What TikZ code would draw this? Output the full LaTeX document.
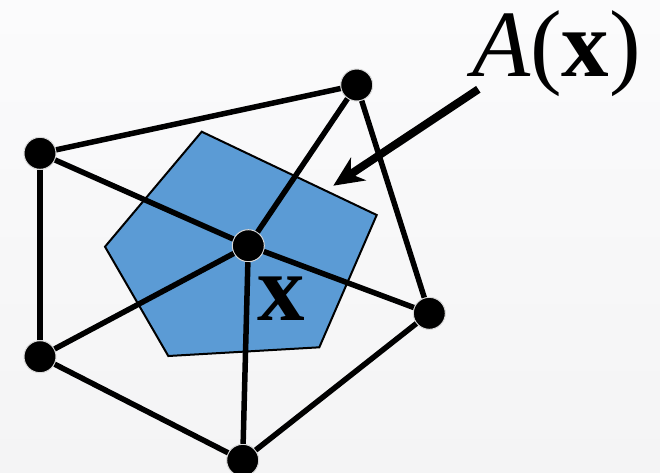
\documentclass[tikz,border=0pt]{standalone}
\usepackage{fontspec}
\setmainfont{Liberation Serif}
\usetikzlibrary{arrows.meta}
\definecolor{bgtop}{RGB}{251,251,252}
\definecolor{bgbot}{RGB}{244,244,245}
\definecolor{cellblue}{RGB}{91,155,213}

\begin{document}
\begin{tikzpicture}[
  x=1pt,y=-1pt,
  dot/.style={circle,fill=black,draw=white!70!gray,line width=1pt,minimum size=32pt,inner sep=0pt},
  ln/.style={line width=5.5pt},
  cell/.style={fill=cellblue,draw=black,line width=2pt},
  arr/.style={line width=8pt,-{Stealth[length=30pt,width=27pt,inset=9pt]}},
  lab/.style={inner sep=0pt,font=\fontsize{95}{95}\selectfont}
]
\shade[top color=bgtop,bottom color=bgbot] (0,0) rectangle (660,472);
\useasboundingbox (0,0) rectangle (660,472);

% area around x
\draw[cell] (201.7,131.7) -- (376.7,215) -- (319.3,347.3) -- (168.3,356) -- (105,246.7) -- cycle;

\node[dot] (ctr) at (248.3,245.7) {};
\node[dot] (top) at (356.7,85) {};
\node[dot] (lt) at (40,153.3) {};
\node[dot] (lb) at (40,356.7) {};
\node[dot] (bot) at (242.7,460.3) {};
\node[dot] (rt) at (429.3,313.3) {};

\draw[ln] (lt) -- (top);
\draw[ln] (lt) -- (lb);
\draw[ln] (lb) -- (bot);
\draw[ln] (bot) -- (rt);
\draw[ln] (rt) -- (top);
\draw[ln] (ctr) -- (lt);
\draw[ln] (ctr) -- (top);
\draw[ln] (ctr) -- (rt);
\draw[ln] (ctr) -- (bot);
\draw[ln] (ctr) -- (lb);

\node[lab,font=\fontsize{95}{95}\selectfont\bfseries] (xlab) at (281.7,298.3) {x};
\node[lab,anchor=base west] (alab) at (472,76) {{\itshape A}({\bfseries x})};

\coordinate (as) at (478.3,89.3);
\coordinate (ae) at (333.3,185.7);
\draw[arr] (as) -- (ae);
\end{tikzpicture}
\end{document}
